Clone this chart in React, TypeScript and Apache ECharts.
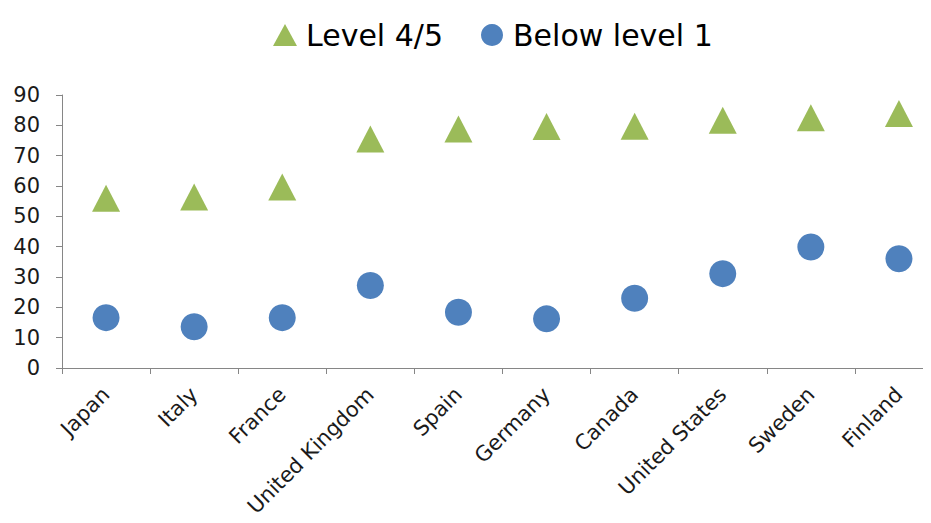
import React, { useEffect, useRef } from "react";
import * as echarts from "echarts";

const categories = ["Japan", "Italy", "France", "United Kingdom", "Spain", "Germany", "Canada", "United States", "Sweden", "Finland"];
const level45 = [56, 56.4, 59.7, 75.5, 78.8, 79.6, 79.7, 81.7, 82.5, 83.9];
const belowLevel1 = [16.6, 13.6, 16.6, 27.2, 18.4, 16.2, 23, 31.1, 39.9, 36];
const yTicks = { min: 0, max: 90, interval: 10 };

const FONT = "DejaVu Sans";

export default function App() {
  const ref = useRef<HTMLDivElement>(null);
  useEffect(() => {
    if (!ref.current) return;
    const chart = echarts.init(ref.current, null, { renderer: "svg" });
    chart.setOption({
      animation: false,
      backgroundColor: "#ffffff",
      legend: {
        left: 268,
        top: 15,
        itemWidth: 24,
        itemHeight: 22,
        itemGap: 38,
        textStyle: { fontFamily: FONT, fontSize: 30, color: "#000", padding: [0, 0, 0, 4] },
        data: ["Level 4/5", "Below level 1"],
      },
      grid: { left: 62, width: 881, top: 95, bottom: 155, containLabel: false },
      xAxis: {
        type: "category",
        data: categories,
        boundaryGap: true,
        axisLine: { lineStyle: { color: "#868686", width: 1 } },
        axisTick: { show: true, length: 6, lineStyle: { color: "#868686" } },
        axisLabel: { rotate: 45, margin: 23, fontFamily: FONT, fontSize: 21, color: "#1a1a1a", interval: 0 },
        splitLine: { show: false },
      },
      yAxis: {
        type: "value",
        min: yTicks.min,
        max: yTicks.max,
        interval: yTicks.interval,
        axisLine: { show: true, lineStyle: { color: "#868686", width: 1 } },
        axisTick: { show: true, length: 6, lineStyle: { color: "#868686" } },
        axisLabel: { margin: 22, fontFamily: FONT, fontSize: 21, color: "#1a1a1a" },
        splitLine: { show: false },
      },
      series: [
        {
          name: "Level 4/5",
          type: "scatter",
          symbol: "triangle",
          symbolSize: [28, 27],
          itemStyle: { color: "#9BBB59", opacity: 1 },
          data: level45,
        },
        {
          name: "Below level 1",
          type: "scatter",
          symbol: "circle",
          symbolSize: 27,
          itemStyle: { color: "#4F81BD", opacity: 1 },
          data: belowLevel1,
        },
      ],
    });
    return () => chart.dispose();
  }, []);
  return (
    <div style={{ width: 931, height: 523, margin: -8, overflow: "hidden", position: "relative" }}>
      <div ref={ref} style={{ width: 960, height: 523 }} />
    </div>
  );
}
